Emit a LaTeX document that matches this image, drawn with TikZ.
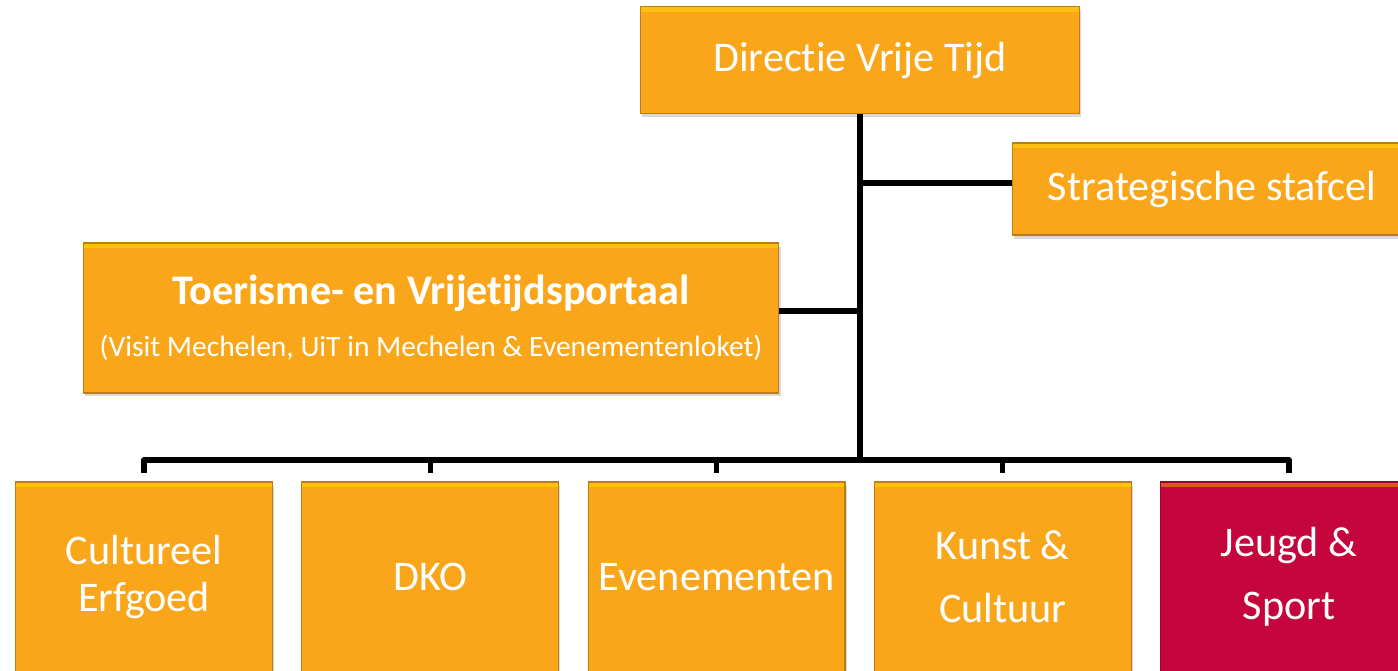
\documentclass[tikz,border=0pt]{standalone}
\usepackage{fontspec}
\setmainfont{Carlito}[Ligatures={NoCommon,NoContextual},Contextuals=NoAlternate]
\usetikzlibrary{positioning,calc,shadows}
\definecolor{orangei}{RGB}{250,166,26}
\definecolor{redi}{RGB}{197,6,62}
\tikzset{
          unit/.style={
            rectangle,
            fill=orangei,
            draw=orangei!75!black,
            line width=0.6pt,
            text=white,
            align=center,
            inner sep=0pt,
            drop shadow={opacity=0.3,shadow xshift=1pt,shadow yshift=-2pt},
            path picture={\fill[yellow,opacity=0.35]
              (path picture bounding box.north west) rectangle
              ([yshift=-3pt]path picture bounding box.north east);}
          },
          dept/.style={unit,minimum width=5.14cm,minimum height=3.8cm,
            font=\fontsize{24}{27}\selectfont},
          big/.style={font=\fontsize{24}{28}\selectfont},
          conn/.style={line width=3pt,line join=round}
        }

\begin{document}
\begin{tikzpicture}[x=0.02cm,y=-0.02cm,node distance=0.565cm]
            \useasboundingbox (0,0) rectangle (1398,671);
            \clip (0,0) rectangle (1398,671);

            \node[unit,big,minimum width=8.78cm,minimum height=2.14cm] (dir) at (860,60) {Directie Vrije Tijd};
            \node[unit,big,minimum width=8cm,minimum height=1.84cm] (staf) at (1212,189) {Strategische stafcel};
            \node[unit,minimum width=13.92cm,minimum height=3cm] (port) at (431,318)
              {{\fontsize{24}{28}\selectfont\bfseries Toerisme- en Vrijetijdsportaal}\\[12pt]
               {\fontsize{16.8}{20}\selectfont (Visit Mechelen, UiT in Mechelen \& Evenementenloket)}};

            \node[dept] (cult) at (144,577) {Cultureel\\Erfgoed};
            \node[dept,right=of cult] (dko) {DKO};
            \node[dept,right=of dko] (even) {Evenementen};
            \node[dept,right=of even] (kunst) {Kunst \&\\[9pt]Cultuur};
            \node[dept,right=of kunst,fill=redi,draw=redi!75!black] (jeugd) {Jeugd \&\\[9pt]Sport};

            \coordinate (bus) at (860,460);
            \draw[conn] (dir.south) -- (bus);
            \draw[conn] ([yshift=3.4pt]staf.west) -- ([yshift=3.4pt]staf.west -| dir.south);
            \draw[conn] ([yshift=4pt]port.east) -- ([yshift=4pt]port.east -| dir.south);
            \foreach \n in {cult,dko,even,kunst,jeugd}
              \draw[conn,shorten <=5pt] (\n.north) |- (bus);
          \end{tikzpicture}
\end{document}
